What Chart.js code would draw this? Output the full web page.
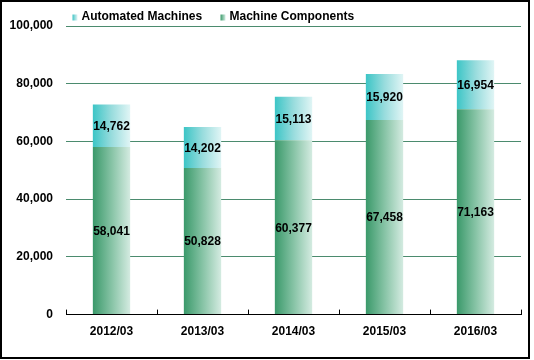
<!DOCTYPE html>
<html>
<head>
<meta charset="utf-8">
<script src="https://cdn.jsdelivr.net/npm/chart.js@4/dist/chart.umd.min.js"></script>
<style>
html,body{margin:0;padding:0;background:#fff;}
canvas{display:block;}
</style>
</head>
<body>
<canvas id="c" width="534" height="360"></canvas>
<script>
const categories = ['2012/03','2013/03','2014/03','2015/03','2016/03'];
const machineComponents = [58041, 50828, 60377, 67458, 71163];
const automatedMachines = [14762, 14202, 15113, 15920, 16954];
const yTicks = [0, 20000, 40000, 60000, 80000, 100000];

const FONT = "'Liberation Sans', Arial, sans-serif";
const BAR_PCT = 0.41;
const greenStops = ['#3a996a', '#86c3a5', '#d4ebe1'];
const cyanStops = ['#3cc5c6', '#98dcdd', '#e0f5f5'];

function gradFor(stops) {
  return function (c) {
    const ch = c.chart;
    if (!ch.chartArea) return stops[0];
    const xs = ch.scales.x;
    const cx = xs.getPixelForValue(c.dataIndex);
    const w = xs.width / categories.length * BAR_PCT;
    const g = ch.ctx.createLinearGradient(cx - w / 2, 0, cx + w / 2, 0);
    g.addColorStop(0, stops[0]);
    g.addColorStop(0.5, stops[1]);
    g.addColorStop(1, stops[2]);
    return g;
  };
}

function swatch(ctx, x, y, w, h, stops) {
  const g = ctx.createLinearGradient(x, 0, x + w, 0);
  g.addColorStop(0, stops[0]);
  g.addColorStop(0.5, stops[1]);
  g.addColorStop(1, stops[2]);
  ctx.fillStyle = g;
  ctx.fillRect(x, y, w, h);
}

const extras = {
  id: 'extras',
  afterDraw(chart) {
    const ctx = chart.ctx;
    const xs = chart.scales.x;
    ctx.save();
    // inside tick marks on x axis
    ctx.strokeStyle = '#000';
    ctx.lineWidth = 1;
    const n = categories.length;
    for (let i = 0; i <= n; i++) {
      const x = Math.round(xs.left + i * xs.width / n) + 0.5;
      ctx.beginPath();
      ctx.moveTo(x, xs.top);
      ctx.lineTo(x, xs.top - 5);
      ctx.stroke();
    }
    // data labels
    ctx.fillStyle = '#000';
    ctx.font = "bold 12px " + FONT;
    ctx.textAlign = 'center';
    ctx.textBaseline = 'middle';
    chart.data.datasets.forEach((ds, di) => {
      const meta = chart.getDatasetMeta(di);
      meta.data.forEach((el, i) => {
        const p = el.getProps(['x', 'y', 'base'], true);
        const v = ds.data[i];
        ctx.fillText(v.toLocaleString('en-US'), p.x, (p.y + p.base) / 2 + 1);
      });
    });
    // legend
    ctx.textAlign = 'left';
    const legend = [
      { text: 'Automated Machines', stops: cyanStops, sx: 72.5, tx: 81.5 },
      { text: 'Machine Components', stops: greenStops, sx: 220.5, tx: 229.5 }
    ];
    legend.forEach(l => {
      swatch(ctx, l.sx, 14.5, 5, 6, l.stops);
      ctx.fillStyle = '#000';
      ctx.fillText(l.text, l.tx, 17);
    });
    // outer border
    ctx.strokeStyle = '#000';
    ctx.lineWidth = 2;
    ctx.strokeRect(1, 1, 528, 357);
    ctx.restore();
  }
};

new Chart(document.getElementById('c'), {
  type: 'bar',
  data: {
    labels: categories,
    datasets: [
      { label: 'Machine Components', data: machineComponents, backgroundColor: gradFor(greenStops), borderWidth: 0 },
      { label: 'Automated Machines', data: automatedMachines, backgroundColor: gradFor(cyanStops), borderWidth: 0 }
    ]
  },
  options: {
    responsive: false,
    animation: false,
    devicePixelRatio: 1,
    categoryPercentage: 1,
    barPercentage: BAR_PCT,
    layout: { padding: { top: 26, left: 0, right: 13, bottom: 11 } },
    plugins: { legend: { display: false }, tooltip: { enabled: false } },
    scales: {
      x: {
        stacked: true,
        grid: { display: false, drawTicks: false },
        border: { display: true, color: '#000', width: 1 },
        ticks: { color: '#000', font: { family: FONT, size: 12, weight: 'bold' }, padding: 10, maxRotation: 0 }
      },
      y: {
        stacked: true,
        min: 0,
        max: 100000,
        afterBuildTicks(scale) { scale.ticks = yTicks.map(v => ({ value: v })); },
        afterFit(scale) { scale.width = 66; },
        grid: { color: '#4b8b6e', lineWidth: 1, drawTicks: false },
        border: { display: false },
        ticks: {
          color: '#000',
          padding: 13,
          font: { family: FONT, size: 12, weight: 'bold' },
          callback: v => v.toLocaleString('en-US')
        }
      }
    }
  },
  plugins: [extras]
});
</script>
</body>
</html>
